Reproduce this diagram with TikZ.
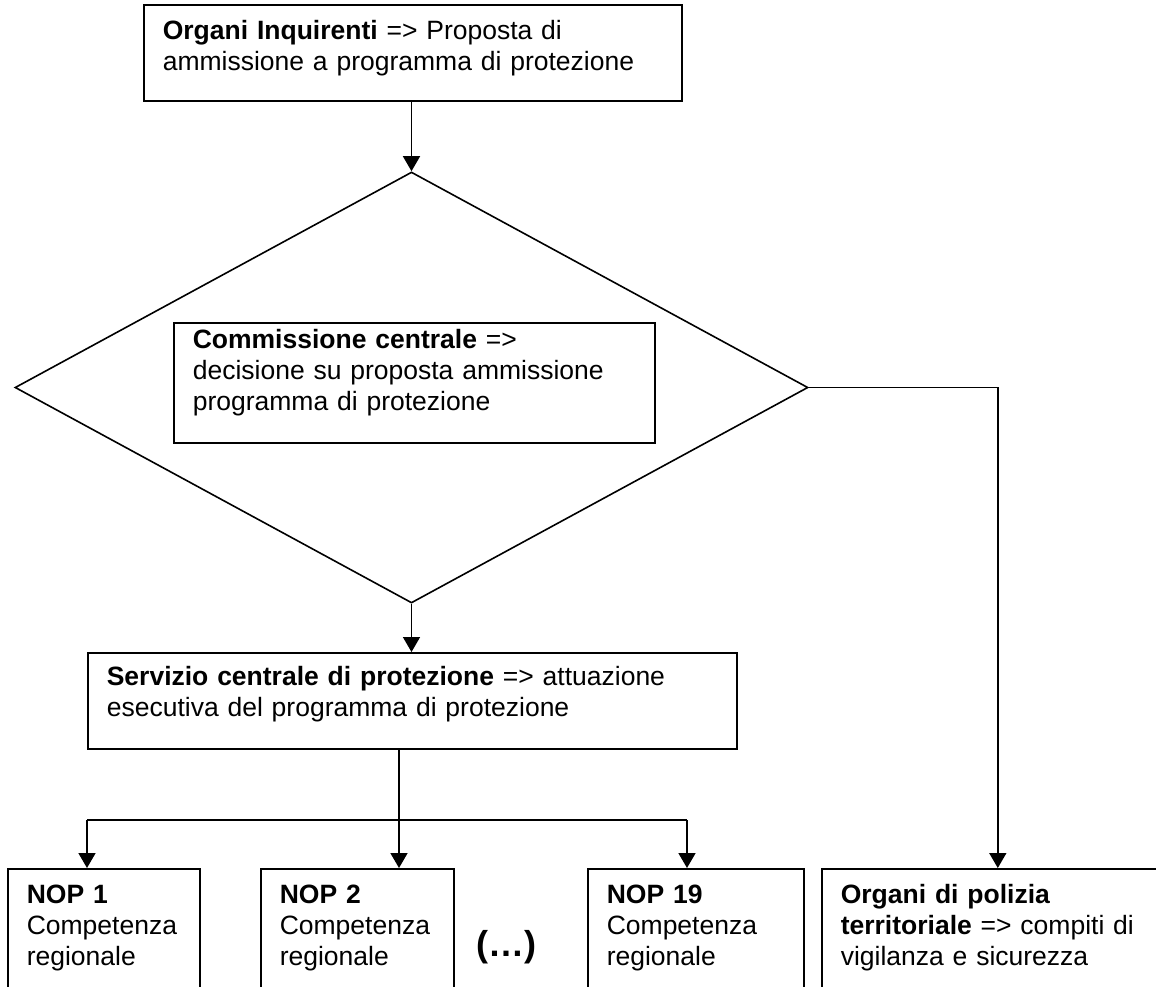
\documentclass[tikz,border=0pt]{standalone}
\usepackage{fontspec}
\setmainfont{Liberation Sans}
\usetikzlibrary{shapes.geometric,arrows.meta}

\tikzset{
  panel/.style={draw, line width=1.6pt, anchor=north west, align=left,
    inner xsep=19pt, inner ysep=0pt, text height=35pt,
    font=\fontsize{26.5}{31}\selectfont},
  link/.style={->, line width=1.6pt},
  >={Triangle[width=17pt,length=15pt]},
}

\begin{document}
\begin{tikzpicture}[x=1pt,y=-1pt]
  \useasboundingbox (0,0) rectangle (1156,986);
  \clip (0,0) rectangle (1156,986);
  % proposal and decision
  \node[panel, text width=500pt, text depth=61pt] (inq) at (143,4)
    {\textbf{Organi Inquirenti} => Proposta di\\ammissione a programma di protezione};
  \node[draw, diamond, line width=1.6pt, minimum width=793pt, minimum height=431pt,
    inner sep=0pt] (dec) at (411.5,387.5) {};
  \node[panel, text width=443pt, text height=26pt, text depth=94pt] (com) at (173,322)
    {\textbf{Commissione centrale} =>\\decisione su proposta ammissione\\programma di protezione};
  % execution
  \node[panel, text width=611pt, text height=33pt, text depth=63pt] (serv) at (87,652)
    {\textbf{Servizio centrale di protezione} => attuazione\\esecutiva del programma di protezione};
  % regional units
  \node[panel, text width=154pt, text depth=140pt] (nop1) at (7,868)
    {\textbf{NOP 1}\\Competenza\\regionale};
  \node[panel, text width=155pt, text depth=140pt] (nop2) at (260,868)
    {\textbf{NOP 2}\\Competenza\\regionale};
  \node[panel, text width=178pt, text depth=140pt] (nop19) at (587,868)
    {\textbf{NOP 19}\\Competenza\\regionale};
  \node[font=\bfseries\fontsize{36}{42}\selectfont] (dots) at (506,947) {(…)};
  \node[panel, text width=314pt, text depth=140pt] (pol) at (821,868)
    {\textbf{Organi di polizia}\\\textbf{territoriale} => compiti di\\vigilanza e sicurezza};
  % connectors
  \draw[link] (inq.south -| dec.north) -- (dec.north);
  \draw[link] (dec.south) -- (dec.south |- serv.north);
  \draw[link] (dec.east) -| (pol.north);
  \coordinate (fork) at (399,820);
  \coordinate (b1) at (87,820);
  \coordinate (b19) at (687,820);
  \draw[line width=1.6pt] (serv.south -| fork) -- (fork);
  \draw[line width=1.6pt] (b1) -- (b19);
  \draw[link] (b1) -- (b1 |- nop1.north);
  \draw[link] (fork) -- (fork |- nop2.north);
  \draw[link] (b19) -- (b19 |- nop19.north);
\end{tikzpicture}
\end{document}
